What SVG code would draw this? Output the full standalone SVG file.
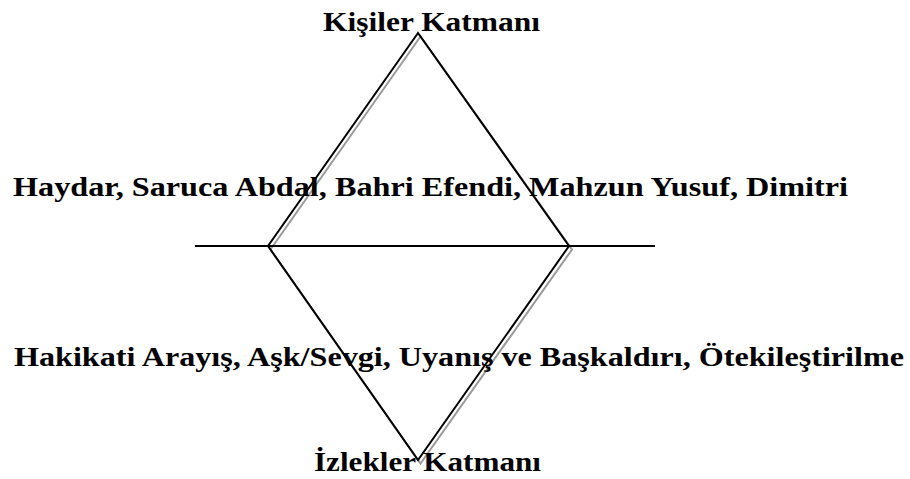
<svg xmlns="http://www.w3.org/2000/svg" width="910" height="479" viewBox="0 0 910 479">
<style>
.t{font-family:"Liberation Serif","Times New Roman",serif;font-weight:bold;font-size:28px;fill:#000}
.edge{fill:none;stroke:#000;stroke-width:2}
.shadow{fill:none;stroke:#9a9a9a;stroke-width:2}
</style>
<rect width="910" height="479" fill="#fff"/>
<g id="connectors">
<polygon class="shadow" points="420.5,36.5 270.5,249.5 420.5,463.5 572,249.5"/>
<polygon class="edge" points="418,33 268,246 418,460 569,246"/>
<line class="edge" x1="195" y1="246" x2="655" y2="246"/>
</g>
<g id="top"><text class="t" x="323" y="31" textLength="217" lengthAdjust="spacingAndGlyphs">Kişiler Katmanı</text></g>
<g id="kisiler"><text class="t" x="13" y="196" textLength="835" lengthAdjust="spacingAndGlyphs">Haydar, Saruca Abdal, Bahri Efendi, Mahzun Yusuf, Dimitri</text></g>
<g id="izlekler-list"><text class="t" x="14" y="366" textLength="890" lengthAdjust="spacingAndGlyphs">Hakikati Arayış, Aşk/Sevgi, Uyanış ve Başkaldırı, Ötekileştirilme</text></g>
<g id="bottom"><text class="t" x="314" y="471" textLength="227" lengthAdjust="spacingAndGlyphs">İzlekler Katmanı</text></g>
</svg>
